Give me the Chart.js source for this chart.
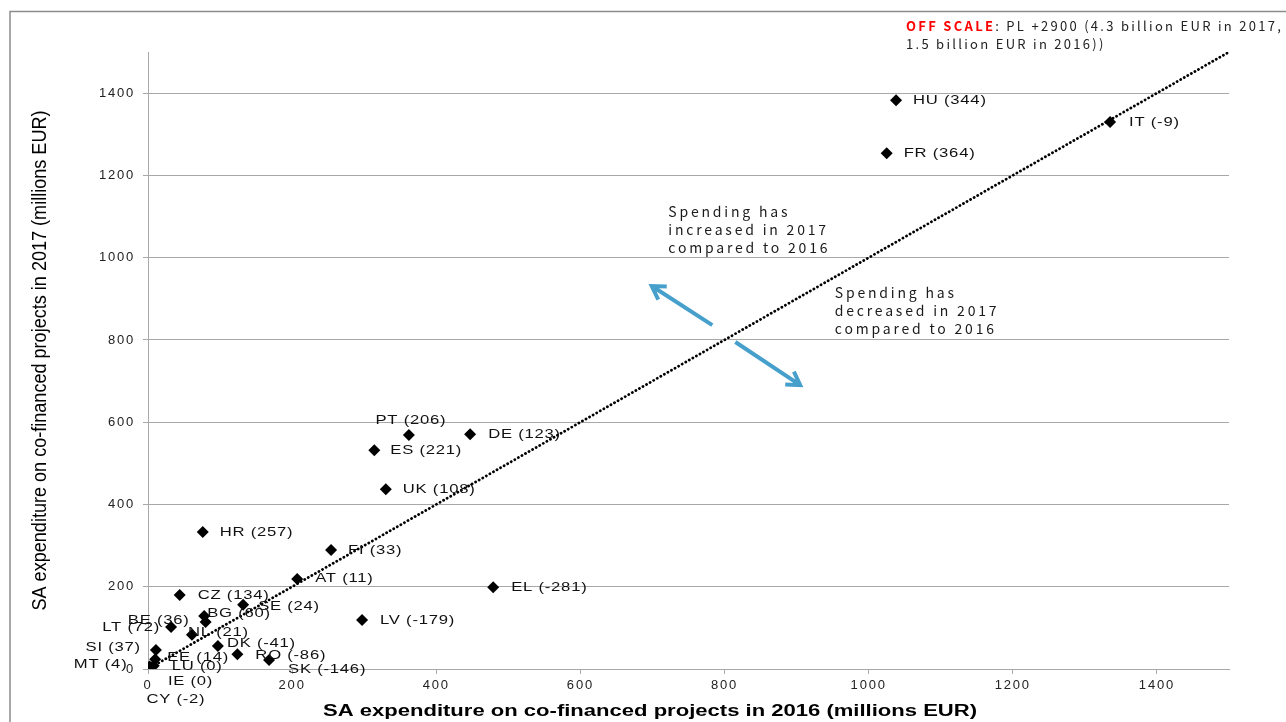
<!DOCTYPE html>
<html>
<head>
<meta charset="utf-8">
<script src="https://cdn.jsdelivr.net/npm/chart.js@4.4.1/dist/chart.umd.min.js"></script>
<style>
html, body { margin: 0; padding: 0; background: #fff; }
</style>
</head>
<body>
<canvas id="sa_scatter" width="1286" height="722"></canvas>
<script>
/* state aid expenditure, co-financed projects: 2016 vs 2017 */
const countries = ['HU', 'IT', 'FR', 'PT', 'DE', 'ES', 'UK', 'HR', 'FI', 'AT', 'EL', 'LV', 'CZ', 'SE',
    'BG', 'BE', 'LT', 'NL', 'DK', 'RO', 'SK', 'SI', 'EE', 'MT', 'LU', 'IE', 'CY'];
const change = [344, -9, 364, 206, 123, 221, 108, 257, 33, 11, -281, -179, 134, 24,
    60, 36, 72, 21, -41, -86, -146, 37, 14, 4, 0, 0, -2];
const spend2016 = [1038, 1335, 1025, 362, 447, 314, 330, 76, 254, 207, 479, 297, 44, 132,
    78, 80, 32, 61, 97, 124, 168, 11, 10, 2, 8, 4, 2];
const spend2017 = [1383, 1330, 1254, 569, 571, 532, 437, 333, 289, 219, 199, 119, 180, 156,
    129, 114, 102, 83, 56, 36, 22, 46, 24, 6, 8, 4, 0];
const diagonalX = [0, 1500];
const diagonalY = [0, 1500];
const xTicks = [0, 200, 400, 600, 800, 1000, 1200, 1400];
const yTicks = [0, 200, 400, 600, 800, 1000, 1200, 1400];

// where each country label sits next to its diamond: [dx, dy, align]
const labelSpots = [
    [17, 0, 'l'], [19, 0, 'l'], [17, 0, 'l'], [2, -15, 'c'], [18, 0, 'l'], [16, 0, 'l'], [17, 0, 'l'],
    [17, 0, 'l'], [17, 0, 'l'], [18, 0, 'l'], [18, 0, 'l'], [18, 0, 'l'], [18, 0, 'l'], [15, 2, 'l'],
    [3, -3, 'l'], [-16, -2, 'r'], [-11, 0, 'r'], [-4, -2, 'l'], [9, -3, 'l'], [18, 1, 'l'], [19, 9, 'l'],
    [-15, -3, 'r'], [12, -2, 'l'], [-22, -2, 'r'], [18, 1, 'l'], [17, 14, 'l'], [-3, 30, 'l']
];

const arrows = [
    { from: [783, 836], to: [699, 931] },
    { from: [815, 795], to: [905, 690] }
];

const gray = '#a8a8a8';
const tickFont = { family: "'Liberation Sans', Arial, sans-serif", size: 13 };

function fitText(ctx, txt, x, y, width) {
    const w = ctx.measureText(txt).width;
    ctx.save();
    ctx.translate(x, y);
    ctx.scale(width / w, 1);
    ctx.fillText(txt, 0, 0);
    ctx.restore();
}

function spacingFor(ctx, txt, width) {
    ctx.letterSpacing = '0px';
    return (width - ctx.measureText(txt).width) / txt.length;
}

function drawArrow(ctx, x1, y1, x2, y2) {
    const a = Math.atan2(y2 - y1, x2 - x1);
    const head = 15;
    ctx.beginPath();
    ctx.moveTo(x1, y1);
    ctx.lineTo(x2, y2);
    ctx.moveTo(x2 - head * Math.cos(a - 0.55), y2 - head * Math.sin(a - 0.55));
    ctx.lineTo(x2, y2);
    ctx.lineTo(x2 - head * Math.cos(a + 0.55), y2 - head * Math.sin(a + 0.55));
    ctx.stroke();
}

const tickSpacing = {
    id: 'tickSpacing',
    beforeDraw(chart) { chart.ctx.letterSpacing = '1.8px'; },
    beforeDatasetsDraw(chart) { chart.ctx.letterSpacing = '0px'; }
};

const countryLabels = {
    id: 'countryLabels',
    afterDatasetsDraw(chart) {
        const ctx = chart.ctx;
        const pts = chart.getDatasetMeta(0).data;
        const sx = 1.28;
        ctx.save();
        ctx.font = "13px 'Liberation Sans', Arial, sans-serif";
        ctx.letterSpacing = '0.6px';
        ctx.fillStyle = '#111';
        ctx.textBaseline = 'middle';
        ctx.textAlign = 'left';
        pts.forEach((p, i) => {
            const [dx, dy, align] = labelSpots[i];
            const txt = countries[i] + ' (' + change[i] + ')';
            const w = ctx.measureText(txt).width * sx;
            let x = p.x + dx;
            if (align === 'r') x -= w;
            else if (align === 'c') x -= w / 2;
            ctx.save();
            ctx.translate(x, p.y + dy);
            ctx.scale(sx, 1);
            ctx.fillText(txt, 0, 0);
            ctx.restore();
        });
        ctx.restore();
    }
};

const extras = {
    id: 'extras',
    afterDraw(chart) {
        const ctx = chart.ctx;
        const xs = chart.scales.x, ys = chart.scales.y;
        const area = chart.chartArea;
        ctx.save();

        // frame
        ctx.strokeStyle = '#8c8c8c';
        ctx.lineWidth = 1.5;
        ctx.beginPath();
        ctx.moveTo(10, 722);
        ctx.lineTo(10, 11.5);
        ctx.lineTo(1286, 11.5);
        ctx.stroke();

        // axis titles
        ctx.fillStyle = '#000';
        ctx.textAlign = 'center';
        ctx.textBaseline = 'middle';
        ctx.letterSpacing = '0px';
        ctx.font = "20px 'Liberation Sans Narrow', 'Liberation Sans', Arial, sans-serif";
        ctx.save();
        ctx.translate(40, (area.top + area.bottom) / 2);
        ctx.rotate(-Math.PI / 2);
        fitText(ctx, 'SA expenditure on co-financed projects in 2017 (millions EUR)', 0, 0, 500);
        ctx.restore();
        ctx.font = "bold 16px 'Liberation Sans', Arial, sans-serif";
        fitText(ctx, 'SA expenditure on co-financed projects in 2016 (millions EUR)', 650, 712, 654);

        // off scale note
        ctx.textAlign = 'left';
        ctx.font = "13px 'Noto Sans CJK KR', 'Noto Sans', sans-serif";
        const line1 = 'OFF SCALE: PL +2900 (4.3 billion EUR in 2017,';
        const sp = spacingFor(ctx, line1, 374);
        ctx.letterSpacing = sp + 'px';
        ctx.font = "bold 13px 'Noto Sans CJK KR', 'Noto Sans', sans-serif";
        ctx.fillStyle = '#ff0000';
        ctx.fillText('OFF SCALE', 906, 26);
        const w0 = ctx.measureText('OFF SCALE').width;
        ctx.font = "13px 'Noto Sans CJK KR', 'Noto Sans', sans-serif";
        ctx.fillStyle = '#222';
        ctx.fillText(': PL +2900 (4.3 billion EUR in 2017,', 906 + w0, 26);
        ctx.fillText('1.5 billion EUR in 2016))', 906, 44);

        // spending notes
        ctx.font = "14px 'Noto Sans CJK KR', 'Noto Sans', sans-serif";
        const sp2 = spacingFor(ctx, 'compared to 2016', 162);
        ctx.letterSpacing = sp2 + 'px';
        ctx.fillStyle = '#1a1a1a';
        const up = ['Spending has', 'increased in 2017', 'compared to 2016'];
        const down = ['Spending has', 'decreased in 2017', 'compared to 2016'];
        up.forEach((t, i) => ctx.fillText(t, xs.getPixelForValue(722), ys.getPixelForValue(1111) + i * 18));
        down.forEach((t, i) => ctx.fillText(t, xs.getPixelForValue(953), ys.getPixelForValue(914) + i * 18));

        // arrows
        ctx.strokeStyle = '#47a0cc';
        ctx.lineWidth = 4;
        ctx.lineCap = 'butt';
        ctx.lineJoin = 'miter';
        arrows.forEach(a => drawArrow(ctx,
            xs.getPixelForValue(a.from[0]), ys.getPixelForValue(a.from[1]),
            xs.getPixelForValue(a.to[0]), ys.getPixelForValue(a.to[1])));

        ctx.restore();
    }
};

const saScatter = new Chart(document.getElementById('sa_scatter'), {
    type: 'scatter',
    data: {
        datasets: [{
            label: 'Member States',
            data: countries.map((c, i) => ({ x: spend2016[i], y: spend2017[i] })),
            pointStyle: 'rectRot',
            pointRadius: 6,
            backgroundColor: '#000',
            borderColor: '#000',
            borderWidth: 0
        }, {
            label: 'No change',
            data: diagonalX.map((x, i) => ({ x: x, y: diagonalY[i] })),
            showLine: true,
            borderColor: '#000',
            borderWidth: 2.8,
            borderDash: [0.1, 4],
            borderCapStyle: 'round',
            pointRadius: 0
        }]
    },
    options: {
        responsive: false,
        animation: false,
        layout: { padding: { left: 0, top: 52, right: 57, bottom: 0 } },
        plugins: {
            legend: { display: false },
            tooltip: { enabled: false }
        },
        scales: {
            x: {
                type: 'linear',
                min: 0,
                max: 1500,
                afterBuildTicks: s => { s.ticks = xTicks.map(v => ({ value: v })); },
                afterFit: s => { s.height = 53; },
                grid: { drawOnChartArea: false, tickLength: 5, color: gray },
                border: { color: gray },
                ticks: { font: tickFont, color: '#222', padding: 4, maxRotation: 0, callback: v => String(v) }
            },
            y: {
                type: 'linear',
                min: 0,
                max: 1500,
                afterBuildTicks: s => { s.ticks = yTicks.map(v => ({ value: v })); },
                afterFit: s => { s.width = 148; },
                grid: { tickLength: 5, color: gray },
                border: { color: gray },
                ticks: { font: tickFont, color: '#222', padding: 8, callback: v => String(v) }
            }
        }
    },
    plugins: [tickSpacing, countryLabels, extras]
});
</script>
</body>
</html>
